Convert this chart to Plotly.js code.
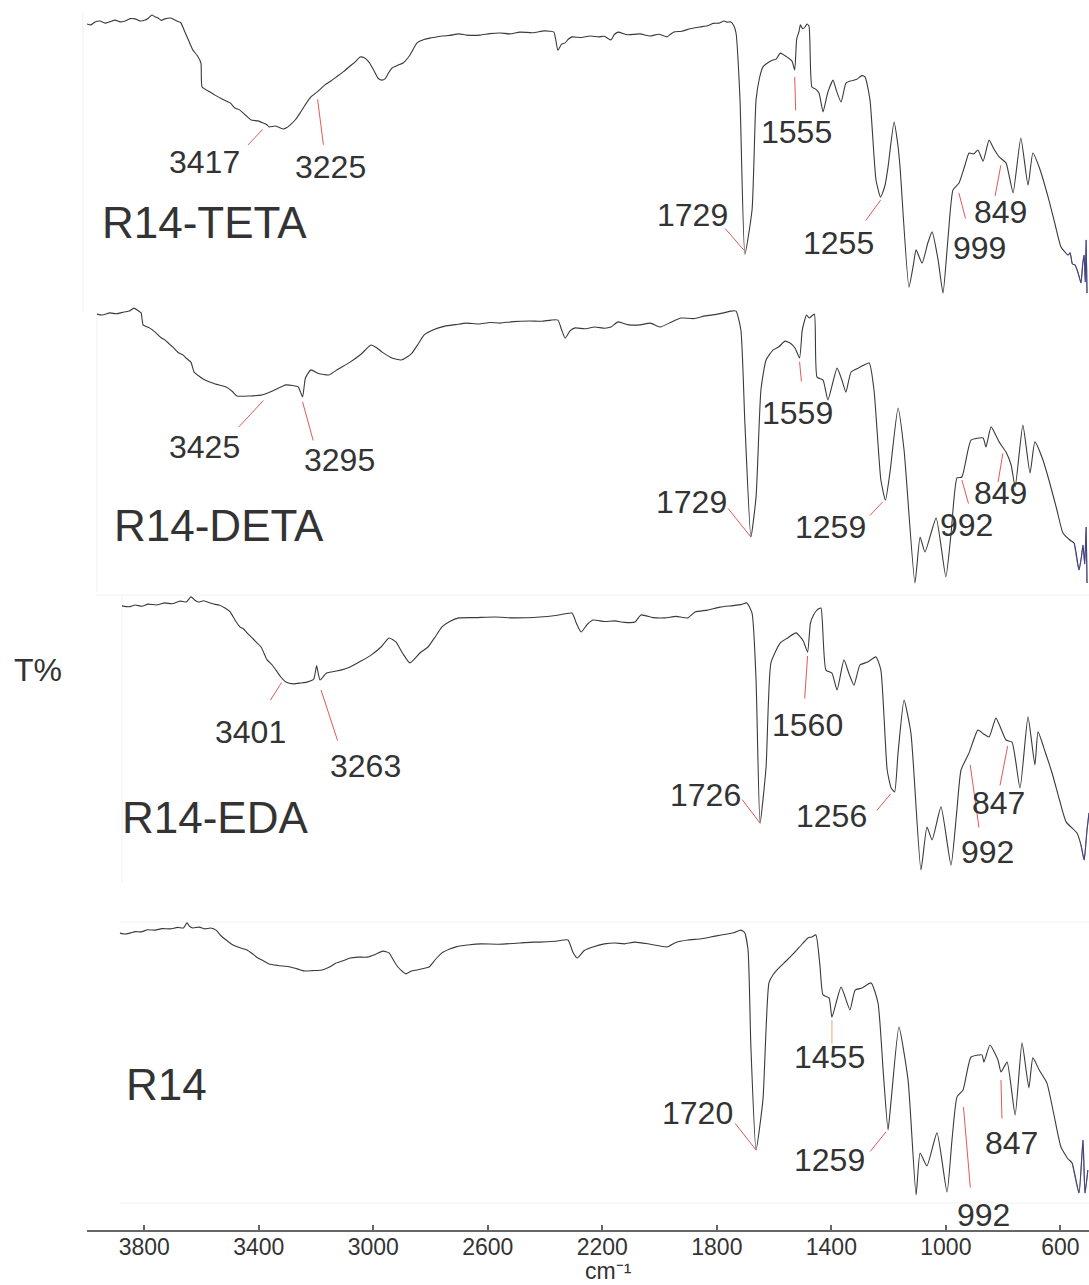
<!DOCTYPE html>
<html>
<head>
<meta charset="utf-8">
<script src="https://cdn.plot.ly/plotly-3.0.1.min.js"></script>
<style>
  html, body { margin: 0; padding: 0; background: #ffffff; }
  #chart { width: 1089px; height: 1285px; }
</style>
</head>
<body>
<div id="chart"></div>
<script>
// FTIR transmittance spectra of resin R14 and its amine-modified forms (TETA, DETA, EDA)

const sampleNames = ['R14-TETA', 'R14-DETA', 'R14-EDA', 'R14'];

// [wavenumber cm-1, transmittance (relative %, per panel)]
const tetaSpectrum = [[4027,92],[4013,91.7],[3999,92.7],[3982,93],[3964,92.3],[3946,92.8],[3929,93.3],[3911,92.7],
  [3894,93],[3876,93.8],[3859,93.7],[3842,93],[3824,93.3],[3812,94],[3800,95],[3790,94.4],[3779,94],[3767,93.2],
  [3755,93.7],[3735,94],[3713,93],[3700,92.5],[3688,90],[3672,86.5],[3657,83.3],[3642,81.5],[3629,79],[3625,71],
  [3600,69.5],[3580,68.3],[3555,67],[3527,65.7],[3510,64],[3493,63.3],[3472,61.5],[3454,60],[3430,59.7],[3412,59],
  [3400,58.5],[3391,57.7],[3370,58],[3355,57.5],[3342,57],[3330,57.4],[3318,58.3],[3300,60],[3283,62.3],[3265,65],
  [3245,67.7],[3220,69.6],[3196,71.7],[3175,73],[3157,74.3],[3130,76.2],[3108,78],[3090,79.4],[3073,81],[3060,80.8],
  [3042,79.3],[3025,76.5],[3011,74],[2998,73.3],[2986,73.7],[2975,75.5],[2962,77.3],[2940,78.3],[2923,79],[2900,81.5],
  [2874,85.7],[2850,86.8],[2829,87.3],[2810,87.6],[2787,88],[2760,88.2],[2728,88.7],[2700,88.3],[2654,88.3],[2620,88.8],
  [2584,89],[2550,88.7],[2515,89.3],[2470,89.1],[2431,89.7],[2410,89.6],[2396,89.3],[2382,83.3],[2370,85.2],[2357,85.7],
  [2345,87],[2333,87.7],[2300,87.5],[2270,88],[2240,87.7],[2220,87.9],[2197,86.7],[2185,88.5],[2172,89.3],[2140,88.4],
  [2095,88.7],[2060,88],[2030,88.6],[2001,87.7],[1990,88.5],[1977,89.3],[1950,89.6],[1920,90.4],[1886,91],[1860,91.4],
  [1840,92.2],[1820,92.3],[1802,93],[1790,92.6],[1778,92.7],[1768,91.5],[1760,89],[1746,66.7],[1729,15.3],[1704,30],
  [1690,66.7],[1678,74],[1666,77.7],[1650,79],[1631,80],[1620,80.3],[1605,82.3],[1590,81.5],[1565,79.7],[1555,76.7],
  [1548,87],[1540,89.5],[1535,91.7],[1527,90.4],[1519,91],[1512,92],[1505,91.3],[1495,71],[1482,70.3],[1470,69],
  [1456,62.7],[1440,69],[1421,73.3],[1410,70],[1393,66],[1376,72.3],[1360,73],[1340,73.5],[1320,74.8],[1309,74.3],
  [1292,66.7],[1271,40],[1255,34.3],[1240,38],[1229,44.3],[1208,59.3],[1195,52],[1187,44.3],[1156,4.3],[1140,12],
  [1131,16.7],[1110,12.3],[1090,19],[1075,22.7],[1054,13.3],[1037,2.3],[1020,20],[1002,36.7],[981,39],[960,45],
  [946,49],[930,48.7],[915,50],[897,46.3],[876,53.3],[860,50.5],[841,47.7],[817,45.7],[805,41],[792,35.7],
  [765,54],[740,38.3],[723,49],[700,44],[667,33.3],[645,25],[625,17.7],[600,15],[593,15.7],[585,12],
  [576,11.7],[565,9],[555,5.7],[549,12],[544,15],[540,6],[537,20],[534,2.3]];

const detaSpectrum = [[4013,95.3],[3995,95],[3968,95.7],[3945,95.4],[3919,96],[3900,96.3],[3884,97.3],[3870,96.5],
  [3859,95.7],[3852,91.7],[3830,90.7],[3810,89.3],[3790,87.5],[3776,86.7],[3760,85.3],[3748,84.3],[3730,82.5],[3713,81.7],
  [3700,80.5],[3685,79.3],[3674,76],[3655,74.5],[3636,73.3],[3600,72],[3562,71],[3540,69.5],[3524,68],[3480,68],
  [3440,68.3],[3400,69.7],[3353,71.7],[3330,71.5],[3310,71],[3295,67.7],[3285,74],[3266,76.7],[3240,75.5],[3203,75],
  [3170,77],[3129,79.3],[3090,82],[3056,85],[3035,84],[3018,82.7],[2983,80.7],[2951,80],[2930,81],[2913,82.3],
  [2890,85.5],[2871,88.3],[2840,90],[2798,91.3],[2760,91.8],[2724,92.3],[2680,92],[2640,92.5],[2605,92.3],[2560,92.8],
  [2501,93],[2460,92.9],[2427,93.3],[2403,93.3],[2390,90],[2378,87.3],[2360,89.8],[2343,90.7],[2310,90.4],[2274,91],
  [2240,90.6],[2218,91],[2193,92.7],[2160,91.8],[2116,91.7],[2080,92.3],[2046,91],[2010,92.5],[1973,94],[1930,93.8],
  [1889,94.7],[1850,95.2],[1820,95.8],[1799,96.3],[1781,96.3],[1764,90],[1750,59],[1729,21],[1711,34.3],[1694,70],
  [1676,80],[1652,83.3],[1630,84.5],[1610,86.3],[1590,85.5],[1575,84],[1559,80.7],[1550,89.7],[1542,93],[1535,95],
  [1525,94],[1516,94.7],[1507,95.3],[1498,74.3],[1477,73.3],[1460,66.7],[1428,77.3],[1410,73],[1397,69.3],[1379,76],
  [1350,77.5],[1316,79],[1299,70],[1275,40],[1259,33.3],[1243,42.7],[1215,64],[1194,50],[1156,5.7],[1138,21],
  [1121,16],[1082,27.3],[1048,7.7],[1030,22],[1009,40.7],[992,41],[960,53.3],[918,54],[908,51],[890,57.7],
  [862,52.7],[838,49.3],[820,45],[806,37.7],[779,58.3],[754,42.3],[737,52.7],[710,47],[688,40],[660,30],
  [639,22.3],[615,20],[600,19],[583,10],[575,14],[569,18.3],[563,12],[558,24.3],[555,5.7]];

const edaSpectrum = [[3955,94.7],[3930,94.4],[3909,95],[3885,94.6],[3864,95.3],[3835,95],[3805,95.7],[3780,95.4],
  [3752,96.3],[3730,96],[3714,97.7],[3700,96.6],[3689,96],[3670,96.4],[3647,95.7],[3630,95.2],[3616,95],[3595,94],
  [3577,92.7],[3560,90],[3543,87.7],[3530,87],[3518,85.7],[3495,83.5],[3469,81],[3448,76.7],[3430,75],[3417,73.3],
  [3400,71],[3382,69.3],[3357,68.7],[3330,69],[3309,69.3],[3285,70.3],[3275,74.7],[3263,70],[3240,72.3],[3190,73.3],
  [3158,74.3],[3120,76.3],[3085,78.3],[3050,81],[3022,84],[2998,82.7],[2975,79],[2949,75.7],[2914,79],[2886,81],
  [2860,84.5],[2837,87.7],[2810,89.5],[2778,90.7],[2720,90.8],[2652,91],[2580,90.7],[2495,91],[2440,91.5],[2383,92.3],
  [2368,89],[2351,86],[2330,88.5],[2310,90],[2270,89.5],[2233,89.7],[2200,89.2],[2163,89.3],[2142,91.7],[2100,90.8],
  [2058,90.7],[2020,91.2],[1978,90.7],[1953,92.7],[1910,93.3],[1866,94.3],[1820,94.8],[1790,95.2],[1772,95.7],[1754,92.3],
  [1740,70],[1726,22.3],[1705,41],[1688,75.7],[1656,82.3],[1630,84],[1600,85.7],[1575,83],[1560,79.3],[1550,89],
  [1540,91.5],[1530,93],[1520,93.8],[1513,94],[1496,73.3],[1475,72.3],[1457,66.7],[1433,76.7],[1415,72],[1398,68.3],
  [1377,75],[1350,76],[1321,77.7],[1304,73.3],[1282,40],[1268,34],[1256,32.7],[1244,45.7],[1223,63.3],[1199,52.3],
  [1164,6.7],[1143,21],[1125,16.7],[1094,27.7],[1059,8.3],[1040,25],[1024,40],[996,45.7],[965,53.3],[945,52],
  [926,51],[902,57.3],[867,50],[846,49.3],[818,34],[790,57.7],[766,41.7],[755,52.7],[730,46],[706,39],
  [680,30],[657,22.7],[619,19],[605,15],[594,10],[584,20],[577,25.7]];

const r14Spectrum = [[3942,92.3],[3925,92],[3907,92.3],[3888,92.8],[3868,92.7],[3845,93.4],[3819,93.3],[3795,93.8],
  [3767,93.7],[3740,94.2],[3720,94],[3708,95.7],[3698,94.5],[3687,94],[3665,94.3],[3645,93.7],[3625,94],[3606,93.3],
  [3590,91.5],[3571,90],[3547,88.3],[3520,87.3],[3498,86.7],[3480,85.5],[3460,84],[3440,83],[3421,82],[3390,81.5],
  [3348,81],[3320,80.3],[3299,79.7],[3270,79.8],[3236,80],[3210,81],[3187,82.3],[3160,83.2],[3138,84],[3110,84.3],
  [3079,84.3],[3050,85.2],[3023,86.3],[3002,85.7],[2985,83],[2971,81],[2955,79.5],[2943,78.7],[2925,79.6],[2904,80],
  [2882,80.5],[2862,81],[2840,83.5],[2817,85.7],[2790,87],[2768,87.7],[2720,88.4],[2681,88.7],[2620,88.6],[2545,89],
  [2500,89.3],[2475,89.3],[2420,89.6],[2377,90],[2360,86],[2345,84],[2320,86.5],[2290,87.7],[2250,88.7],[2213,89],
  [2180,88.7],[2143,89.3],[2090,88.6],[2031,87.7],[2000,89.2],[1958,90],[1910,90.4],[1863,91.3],[1820,92],[1795,92.5],
  [1773,93.3],[1760,92.5],[1748,86.7],[1738,54.3],[1720,20],[1696,36.7],[1675,75.7],[1660,78.5],[1640,80.7],[1615,83],
  [1587,85.7],[1565,88],[1539,90.7],[1525,91],[1511,91.7],[1497,81.7],[1486,71.7],[1465,70.7],[1455,64.3],[1423,74.3],
  [1392,66.7],[1374,73.3],[1350,74],[1318,75.7],[1294,69],[1275,45],[1259,26.7],[1248,36.7],[1221,61],[1189,43.3],
  [1161,5],[1147,19],[1123,14.7],[1088,25.7],[1053,6],[1035,24],[1018,37.7],[997,40],[969,51],[931,51.7],
  [924,49.3],[903,55],[875,50],[864,46],[843,49.3],[815,31.7],[791,55.7],[767,40.7],[753,50.7],[730,46.5],
  [704,42.3],[680,32],[655,21],[630,17],[616,15.7],[592,5.7],[578,23.3],[571,5.7],[561,13.3]];

// Assigned band positions (cm-1) for each sample
const tetaPeaks = [3417, 3225, 1729, 1555, 1255, 999, 849];
const detaPeaks = [3425, 3295, 1729, 1559, 1259, 992, 849];
const edaPeaks = [3401, 3263, 1726, 1560, 1256, 992, 847];
const r14Peaks = [1720, 1455, 1259, 992, 847];

const axisTicks = [3800, 3400, 3000, 2600, 2200, 1800, 1400, 1000, 600];

// ---------------- drawing ----------------
const FONT = 'Liberation Sans, Arial, Helvetica, sans-serif';
const TEXT = '#333333';
const W = 1089, H = 1285, BOTTOM = 55;
const PLOT_H = H - BOTTOM;
const X0 = 87;                          // left edge of the wavenumber axis (px)
const xDomain = [X0 / W, 1];
const SPAN = 3500;                      // cm-1 across the axis width

const px = v => v / W;                  // paper x from pixel
const py = v => (PLOT_H - v) / PLOT_H;  // paper y from pixel
const band = (top, bot) => [py(bot), py(top)];

// Each spectrum sits in its own horizontal band with its own x offset.
// Leader geometry [dx1, dy1, dx2, dy2, tx, ty]: line start / end and label centre,
// in pixels relative to the curve point at the assigned wavenumber.
const panels = [
  { data: tetaSpectrum, peaks: tetaPeaks, origin: 4027, band: [0, 300], name: [100, 222],
    leaders: [[1, 7, -15, 24, -57, 40], [1, 7, 7, 54, 14, 75], [-1, -4, -21, -27, -52, -39],
              [0, 7, 1, 42, 2, 62], [0, 3, -16, 25, -42, 46], [5, 4, 12, 31, 26, 59],
              [4, 12, -2, 44, 4, 59]] },
  { data: detaSpectrum, peaks: detaPeaks, origin: 4048, band: [300, 600], name: [112, 525],
    leaders: [[-2, 7, -28, 35, -61, 53], [0, 5, 11, 45, 37, 63], [0, 0, -24, -30, -59, -35],
              [0, 4, 2, 25, -2, 55], [-3, 2, -17, 17, -55, 27], [0, 3, 7, 28, 5, 48],
              [0, 6, -5, 36, -2, 46]] },
  { data: edaSpectrum, peaks: edaPeaks, origin: 4077, band: [590, 890], name: [120, 817],
    leaders: [[1, 6, -11, 25, -30, 55], [1, 10, 18, 62, 45, 86], [0, 0, -19, -25, -55, -28],
              [0, 4, -3, 48, 0, 73], [-4, 2, -19, 20, -63, 24], [0, 15, 9, 79, 17, 102],
              [-4, 4, -12, 45, -13, 61]] },
  { data: r14Spectrum, peaks: r14Peaks, origin: 4057, band: [910, 1210], name: [124, 1084],
    leaders: [[0, 0, -22, -28, -59, -37], [0, 3, 0, 28, -2, 40, '#f2a46e'], [-2, 2, -19, 23, -59, 30],
              [-1, 23, 6, 105, 19, 131], [-5, 16, -4, 56, 6, 79]] }
];

function valueAt(data, w) {
  for (let i = 0; i < data.length - 1; i++) {
    const a = data[i], b = data[i + 1];
    if (w <= a[0] && w >= b[0]) {
      const f = (a[0] - w) / (a[0] - b[0]);
      return a[1] + f * (b[1] - a[1]);
    }
  }
  return data[data.length - 1][1];
}

const annotations = [];
// the wavenumber axis itself (carries no spectrum of its own)
const traces = [{ type: 'scatter', mode: 'lines', x: [], y: [], xaxis: 'x', yaxis: 'y', hoverinfo: 'skip' }];

const layout = {
  width: W, height: H,
  margin: { l: 0, r: 0, t: 0, b: BOTTOM, pad: 0 },
  paper_bgcolor: '#ffffff',
  plot_bgcolor: 'rgba(0,0,0,0)',
  showlegend: false,
  hovermode: false,
  font: { family: FONT, color: TEXT },
  xaxis: {
    domain: xDomain, range: [4000, 4000 - SPAN], anchor: 'y',
    tickmode: 'array', tickvals: axisTicks, ticktext: axisTicks.map(String),
    ticks: 'inside', ticklen: 5, tickwidth: 2, tickcolor: '#666666',
    showline: true, linecolor: '#666666', linewidth: 2,
    showgrid: false, zeroline: false, fixedrange: true,
    ticklabelstandoff: -5,
    tickfont: { family: FONT, size: 23, color: TEXT }
  },
  yaxis: { domain: [0, 1], range: [0, 1], visible: false, fixedrange: true, anchor: 'x' },
  shapes: [],
  annotations: annotations
};

panels.forEach((p, i) => {
  const n = i + 2;
  const xa = 'x' + n, ya = 'y' + n;
  const wn = p.data.map(d => d[0]);
  const tr = p.data.map(d => d[1]);
  layout['xaxis' + n] = { domain: xDomain, range: [p.origin, p.origin - SPAN], anchor: ya,
                          visible: false, fixedrange: true };
  layout['yaxis' + n] = { domain: band(p.band[0], p.band[1]), range: [0, 100], anchor: xa,
                          visible: false, fixedrange: true };

  traces.push({
    type: 'scatter', mode: 'lines', x: wn, y: tr, xaxis: xa, yaxis: ya,
    line: { color: '#3a3a3a', width: 1.1, shape: 'spline', smoothing: 0.5 }, hoverinfo: 'skip'
  });
  // noisy low-wavenumber end of the detector range
  let k = wn.findIndex(w => w < 600);
  k = Math.max(0, k - 1);
  traces.push({
    type: 'scatter', mode: 'lines', x: wn.slice(k), y: tr.slice(k), xaxis: xa, yaxis: ya,
    line: { color: 'rgba(70,70,175,0.65)', width: 1, shape: 'spline', smoothing: 0.5 }, hoverinfo: 'skip'
  });

  // sample name
  annotations.push({
    xref: 'paper', yref: 'paper', x: px(p.name[0]), y: py(p.name[1]),
    xanchor: 'left', yanchor: 'middle', showarrow: false,
    text: sampleNames[i], font: { family: FONT, size: 44, color: TEXT }
  });

  // band assignments with red leader lines
  p.peaks.forEach((w, j) => {
    const g = p.leaders[j];
    const yv = valueAt(p.data, w);
    annotations.push({
      xref: xa, yref: ya, x: w, y: yv, text: '',
      xshift: g[0], yshift: -g[1],
      showarrow: true, arrowhead: 0, arrowwidth: 1,
      arrowcolor: g[6] || 'rgba(226,70,70,0.9)',
      axref: 'pixel', ayref: 'pixel', ax: g[2] - g[0], ay: g[3] - g[1], standoff: 0
    });
    annotations.push({
      xref: xa, yref: ya, x: w, y: yv, text: String(w),
      xshift: g[4], yshift: -g[5], xanchor: 'center', yanchor: 'middle',
      showarrow: false, font: { family: FONT, size: 32, color: TEXT }
    });
  });
});

// axis titles
annotations.push({
  xref: 'paper', yref: 'paper', x: px(12), y: py(670), xanchor: 'left', yanchor: 'middle',
  showarrow: false, text: 'T%', font: { family: FONT, size: 32, color: TEXT }
});
annotations.push({
  xref: 'paper', yref: 'paper', x: px(608), y: py(1271), xanchor: 'center', yanchor: 'middle',
  showarrow: false, text: 'cm\u207B\u00B9', font: { family: FONT, size: 23, color: TEXT }
});

// faint outlines of the individual spectrum frames
const frame = 'rgba(0,0,0,0.06)';
[[83, 12, 83, 312], [97, 312, 97, 592], [97, 595, 1089, 595], [122, 595, 122, 882],
 [120, 922, 1089, 922], [120, 1203, 1089, 1203]].forEach(s => {
  layout.shapes.push({ type: 'line', xref: 'paper', yref: 'paper',
    x0: px(s[0]), y0: py(s[1]), x1: px(s[2]), y1: py(s[3]),
    line: { color: frame, width: 1 } });
});

Plotly.newPlot('chart', traces, layout, { staticPlot: true, displayModeBar: false });
</script>
</body>
</html>
